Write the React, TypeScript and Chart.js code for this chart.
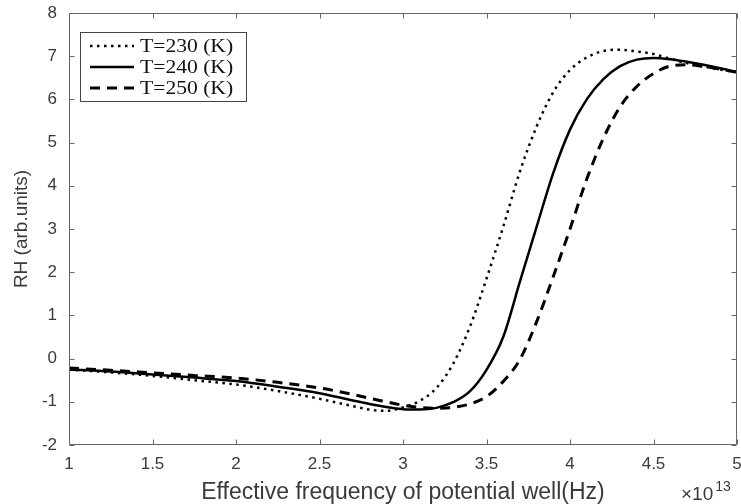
import React, { useEffect, useRef } from 'react';
import { Chart, registerables } from 'chart.js';

Chart.register(...registerables);

// Effective frequency (units of 1e13 Hz)
const freq = [1, 1.25, 1.5, 1.75, 2, 2.25, 2.5, 2.7, 2.8, 2.9, 3.0, 3.1, 3.2, 3.3, 3.4, 3.5, 3.6, 3.7, 3.8, 3.9, 4.0, 4.1, 4.2, 4.3, 4.4, 4.5, 4.6, 4.7, 4.8, 4.9, 5.0];

// RH (arb. units)
const rh230 = [-0.25, -0.32, -0.40, -0.50, -0.60, -0.75, -0.93, -1.10, -1.18, -1.21, -1.13, -0.98, -0.68, -0.12, 0.73, 1.85, 3.05, 4.33, 5.37, 6.17, 6.68, 6.97, 7.12, 7.15, 7.11, 7.05, 6.94, 6.84, 6.76, 6.69, 6.63];
const rh240 = [-0.25, -0.30, -0.37, -0.44, -0.52, -0.65, -0.80, -0.97, -1.05, -1.12, -1.17, -1.18, -1.14, -1.01, -0.76, -0.26, 0.50, 1.78, 3.05, 4.30, 5.30, 6.00, 6.47, 6.77, 6.92, 6.96, 6.93, 6.87, 6.80, 6.72, 6.63];
const rh250 = [-0.22, -0.27, -0.33, -0.39, -0.45, -0.55, -0.68, -0.83, -0.92, -1.00, -1.08, -1.13, -1.15, -1.13, -1.05, -0.88, -0.53, -0.02, 0.85, 1.90, 3.00, 4.15, 5.10, 5.83, 6.30, 6.60, 6.77, 6.80, 6.76, 6.70, 6.63];

const seriesLabels = ['T=230 (K)', 'T=240 (K)', 'T=250 (K)'];
const xTitle = 'Effective frequency of potential well(Hz)';
const yTitle = 'RH (arb.units)';
const xExponentBase = '\u00d710';
const xExponent = '13';

const TEXT_COLOR = '#3a3a3a';
const FRAME_COLOR = '#666666';

const framePlugin = {
  id: 'frameTicksLegend',
  afterDraw(chart: any) {
    const { ctx, chartArea, scales } = chart;
    const { left, right, top, bottom } = chartArea;
    const x = scales.x;
    const y = scales.y;
    ctx.save();
    // frame
    ctx.strokeStyle = FRAME_COLOR;
    ctx.lineWidth = 1;
    const L = Math.round(left) + 0.5;
    const R = Math.round(right) - 0.5;
    const T = Math.round(top) + 0.5;
    const B = Math.round(bottom) - 0.5;
    ctx.beginPath();
    ctx.rect(L, T, R - L, B - T);
    ctx.stroke();
    // inward ticks
    const tl = 5;
    ctx.beginPath();
    x.ticks.forEach((t: any) => {
      const px = Math.round(x.getPixelForValue(t.value)) + 0.5;
      ctx.moveTo(px, B);
      ctx.lineTo(px, B - tl);
      ctx.moveTo(px, T);
      ctx.lineTo(px, T + tl);
    });
    y.ticks.forEach((t: any) => {
      const py = Math.round(y.getPixelForValue(t.value)) + 0.5;
      ctx.moveTo(L, py);
      ctx.lineTo(L + tl, py);
      ctx.moveTo(R, py);
      ctx.lineTo(R - tl, py);
    });
    ctx.stroke();

    // exponent label
    ctx.fillStyle = TEXT_COLOR;
    ctx.textBaseline = 'alphabetic';
    ctx.textAlign = 'left';
    ctx.font = '19px "Liberation Sans", Arial, sans-serif';
    const baseX = right - 56;
    const baseY = bottom + 55;
    ctx.fillText(xExponentBase, baseX, baseY);
    const w = ctx.measureText(xExponentBase).width;
    ctx.font = '14px "Liberation Sans", Arial, sans-serif';
    ctx.fillText(xExponent, baseX + w + 2, baseY - 9);

    // legend
    const bx = 80.5, by = 32.5, bw = 166, bh = 69;
    ctx.fillStyle = '#ffffff';
    ctx.fillRect(bx, by, bw, bh);
    ctx.strokeStyle = '#444444';
    ctx.lineWidth = 1;
    ctx.strokeRect(bx, by, bw, bh);
    const rowY = [46, 67, 88];
    chart.data.datasets.forEach((ds: any, i: number) => {
      const yy = rowY[i];
      ctx.save();
      ctx.strokeStyle = ds.borderColor;
      ctx.lineWidth = ds.borderWidth;
      ctx.setLineDash(ds.borderDash || []);
      ctx.lineCap = ds.borderCapStyle || 'butt';
      ctx.beginPath();
      ctx.moveTo(90, yy);
      ctx.lineTo(134, yy);
      ctx.stroke();
      ctx.restore();
      ctx.save();
      ctx.fillStyle = '#111111';
      ctx.font = '18px "Liberation Serif", "Times New Roman", serif';
      ctx.textBaseline = 'middle';
      ctx.textAlign = 'left';
      ctx.translate(140, yy + 1);
      ctx.scale(1.2, 1);
      ctx.fillText(ds.label, 0, 0);
      ctx.restore();
    });
    ctx.restore();
  },
};

export default function App() {
  const canvasRef = useRef<HTMLCanvasElement | null>(null);

  useEffect(() => {
    document.body.style.margin = '0';
    const canvas = canvasRef.current;
    if (!canvas) return;
    const mk = (vals: number[]) => freq.map((f, i) => ({ x: f, y: vals[i] }));
    const chart = new Chart(canvas, {
      type: 'line',
      data: {
        datasets: [
          {
            label: seriesLabels[0],
            data: mk(rh230),
            borderColor: '#000000',
            borderWidth: 2.5,
            borderDash: [2.5, 4.5],
            pointRadius: 0,
            cubicInterpolationMode: 'monotone',
            fill: false,
          },
          {
            label: seriesLabels[1],
            data: mk(rh240),
            borderColor: '#000000',
            borderWidth: 2.5,
            borderDash: [],
            pointRadius: 0,
            cubicInterpolationMode: 'monotone',
            fill: false,
          },
          {
            label: seriesLabels[2],
            data: mk(rh250),
            borderColor: '#000000',
            borderWidth: 3,
            borderDash: [10, 7],
            pointRadius: 0,
            cubicInterpolationMode: 'monotone',
            fill: false,
          },
        ],
      },
      options: {
        animation: false,
        responsive: false,
        devicePixelRatio: 1,
        layout: { padding: { left: 0, right: 4, top: 13, bottom: 0 } },
        plugins: {
          legend: { display: false },
          tooltip: { enabled: false },
        },
        scales: {
          x: {
            type: 'linear',
            min: 1,
            max: 5,
            ticks: {
              stepSize: 0.5,
              color: TEXT_COLOR,
              padding: 9,
              maxRotation: 0,
              callback: (v: any) => String(Number(v)),
              font: { family: '"Liberation Sans", Arial, sans-serif', size: 17 },
            },
            grid: { display: false, drawTicks: false },
            border: { display: false },
            title: {
              display: true,
              text: xTitle,
              color: TEXT_COLOR,
              padding: { top: 0, bottom: 0 },
              font: { family: '"Liberation Sans", Arial, sans-serif', size: 23, lineHeight: 1 },
            },
            afterFit: (scale: any) => {
              scale.height = 59;
              scale.paddingLeft = 0;
              scale.paddingRight = 0;
            },
          },
          y: {
            type: 'linear',
            min: -2,
            max: 8,
            ticks: {
              stepSize: 1,
              color: TEXT_COLOR,
              padding: 12,
              callback: (v: any) => String(Number(v)),
              font: { family: '"Liberation Sans", Arial, sans-serif', size: 17 },
            },
            grid: { display: false, drawTicks: false },
            border: { display: false },
            title: {
              display: true,
              text: yTitle,
              color: TEXT_COLOR,
              padding: { top: 12, bottom: 0 },
              font: { family: '"Liberation Sans", Arial, sans-serif', size: 19, lineHeight: 1 },
            },
            afterFit: (scale: any) => {
              scale.width = 69;
              scale.paddingTop = 0;
              scale.paddingBottom = 0;
            },
          },
        },
      },
      plugins: [framePlugin],
    } as any);
    return () => chart.destroy();
  }, []);

  return (
    <div style={{ width: 741, height: 504, background: '#ffffff' }}>
      <canvas ref={canvasRef} width={741} height={504} style={{ display: 'block' }} />
    </div>
  );
}
